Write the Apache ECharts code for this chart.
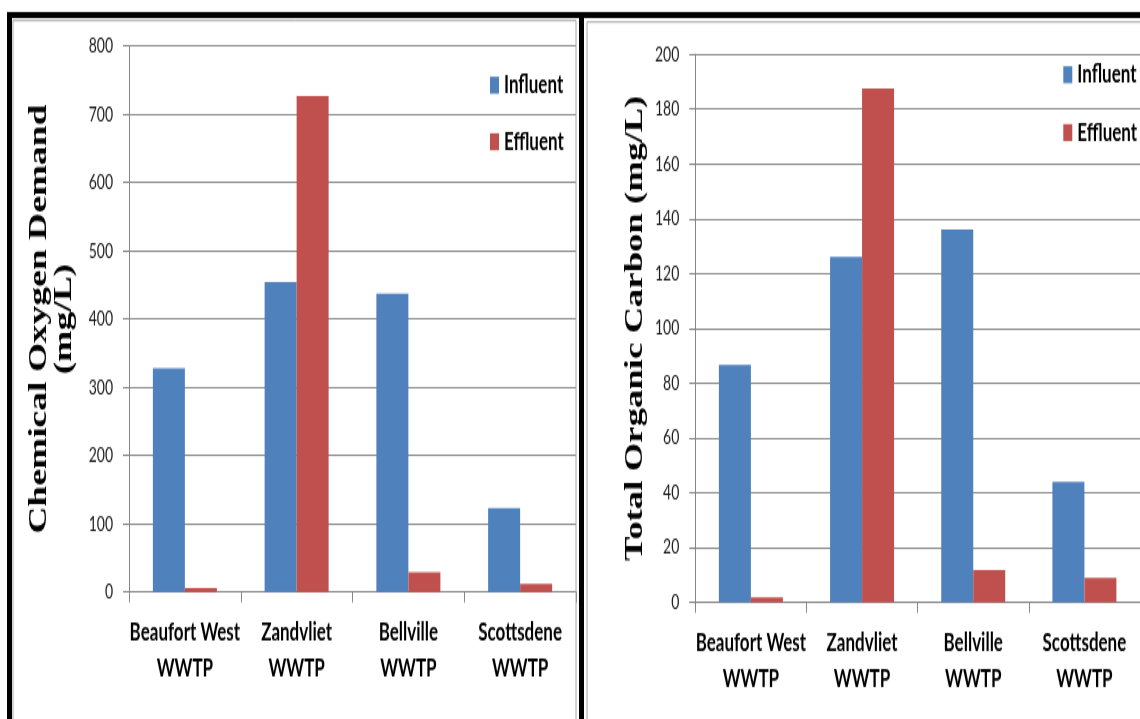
<!DOCTYPE html>
<html>
<head>
<meta charset="utf-8">
<script src="https://cdn.jsdelivr.net/npm/echarts@6/dist/echarts.min.js"></script>
<style>
html,body{margin:0;padding:0;background:#fff;overflow:hidden;width:1140px;height:719px;}
#wrap{width:1140px;height:719px;overflow:hidden;position:relative;}
#chart{width:1140px;height:479.333px;transform:scale(1,1.5);transform-origin:0 0;position:absolute;left:0;top:0;}
</style>
</head>
<body>
<div id="wrap"><div id="chart"></div></div>
<script>
// ---- data ----
const categories = ['Beaufort West\nWWTP', 'Zandvliet\nWWTP', 'Bellville\nWWTP', 'Scottsdene\nWWTP'];
const seriesNames = ['Influent', 'Effluent'];
const codInfluent = [328, 454, 437, 123];
const codEffluent = [6, 727, 29, 12];
const tocInfluent = [86.6, 126, 136, 43.9];
const tocEffluent = [1.8, 187.5, 11.8, 8.9];
const codTicks = { min: 0, max: 800, interval: 100 };
const tocTicks = { min: 0, max: 200, interval: 20 };
const codTitle = 'Chemical Oxygen Demand\n(mg/L)';
const tocTitle = 'Total Organic Carbon (mg/L)';

// ---- styles ----
const BLUE = '#4f81bd', RED = '#c0504d', AX = '#868686', GRID = '#8c8c8c';
const tickFont = { fontFamily: 'Lato', fontSize: 14, color: '#1a1a1a' };
const catFont = { fontFamily: 'Lato', fontWeight: 'bold', fontSize: 17, color: '#000', lineHeight: 24 };

function catAxis(gi) {
  return {
    type: 'category', gridIndex: gi, data: categories,
    axisLine: { show: true, lineStyle: { color: AX, width: 1 } },
    axisTick: { show: true, length: 7, lineStyle: { color: AX } },
    axisLabel: Object.assign({ margin: 15, interval: 0 }, catFont),
    splitLine: { show: false }
  };
}
function valAxis(gi, t, name, gap, fs) {
  return {
    type: 'value', gridIndex: gi, min: t.min, max: t.max, interval: t.interval,
    name: name, nameLocation: 'middle', nameRotate: 90, nameGap: gap,
    nameTextStyle: { fontFamily: 'Liberation Serif', fontWeight: 'bold', fontSize: fs, color: '#000', lineHeight: 25 },
    axisLine: { show: true, lineStyle: { color: AX, width: 1 } },
    axisTick: { show: true, length: 6, lineStyle: { color: AX } },
    axisLabel: Object.assign({ margin: 16 }, tickFont),
    splitLine: { show: true, lineStyle: { color: GRID, width: 1 } }
  };
}
function bar(name, data, color, gi) {
  return {
    type: 'bar', name: name, data: data, xAxisIndex: gi, yAxisIndex: gi,
    barWidth: 32, barGap: '0%', itemStyle: { color: color },
    emphasis: { disabled: true }
  };
}
const legendText = { fontFamily: 'Lato', fontWeight: 'bold', fontSize: 17, color: '#000', lineHeight: 14 };

const option = {
  animation: false,
  backgroundColor: '#fff',
  color: [BLUE, RED],
  grid: [
    { left: 129, top: 30.67, width: 447, height: 364 },
    { left: 695.3, top: 36.2, width: 451, height: 365.3 }
  ],
  xAxis: [catAxis(0), catAxis(1)],
  yAxis: [valAxis(0, codTicks, codTitle, 51.5, 25), valAxis(1, tocTicks, tocTitle, 47, 24.5)],
  legend: [
    { data: seriesNames, orient: 'vertical', left: 490, top: 48.3, padding: 0, itemWidth: 9, itemHeight: 11.3, itemGap: 20.7, textStyle: legendText, icon: 'rect', selectedMode: false },
    { data: seriesNames, orient: 'vertical', left: 1063.3, top: 41.3, padding: 0, itemWidth: 9, itemHeight: 11.3, itemGap: 21.6, textStyle: legendText, icon: 'rect', selectedMode: false }
  ],
  series: [
    bar('Influent', codInfluent, BLUE, 0),
    bar('Effluent', codEffluent, RED, 0),
    bar('Influent', tocInfluent, BLUE, 1),
    bar('Effluent', tocEffluent, RED, 1)
  ],
  graphic: [
    { type: 'rect', silent: true, z: 100, shape: { x: 13, y: 13.7, width: 563, height: 480 }, style: { fill: 'none', stroke: '#a6a6a6', lineWidth: 1 } },
    { type: 'rect', silent: true, z: 100, shape: { x: 587, y: 14.7, width: 600, height: 480 }, style: { fill: 'none', stroke: '#a6a6a6', lineWidth: 1 } },
    { type: 'rect', silent: true, z: 101, shape: { x: 7, y: 8, width: 1140, height: 4 }, style: { fill: '#000' } },
    { type: 'rect', silent: true, z: 101, shape: { x: 7, y: 8, width: 5, height: 480 }, style: { fill: '#000' } },
    { type: 'rect', silent: true, z: 101, shape: { x: 579, y: 8, width: 5, height: 480 }, style: { fill: '#000' } }
  ]
};
const chart = echarts.init(document.getElementById('chart'), null, { renderer: 'canvas' });
chart.setOption(option);
</script>
</body>
</html>
